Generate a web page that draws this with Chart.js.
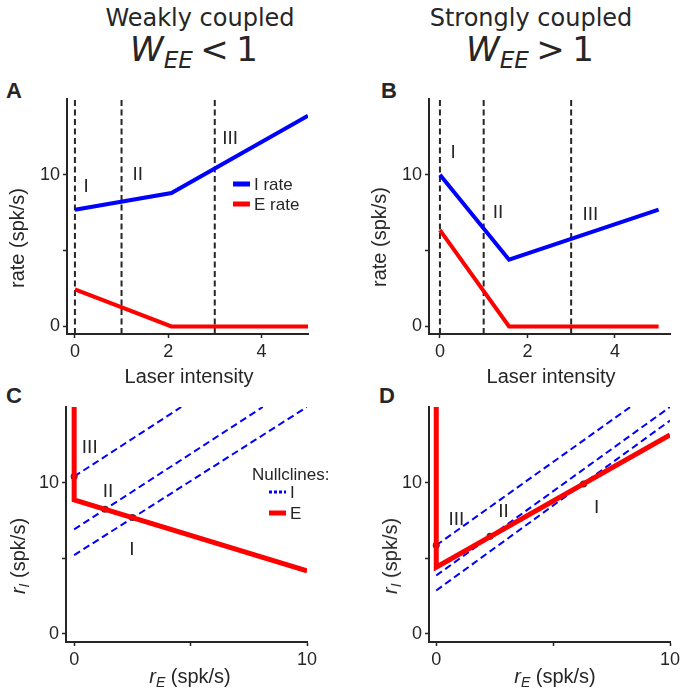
<!DOCTYPE html>
<html>
<head>
<meta charset="utf-8">
<script src="https://cdn.jsdelivr.net/npm/chart.js@4.4.1/dist/chart.umd.min.js"></script>
<style>
  body { margin: 0; background: #fff; }
  #fig { position: relative; width: 691px; height: 691px; overflow: hidden; color: #262626;
         font-family: 'Liberation Sans', Arial, sans-serif; }
  #fig canvas { position: absolute; }
  .t { position: absolute; white-space: nowrap; line-height: 1; transform: translate(-50%, -50%); }
  .head { font-family: 'DejaVu Sans', sans-serif; font-size: 24px; }
  .math { font-family: 'DejaVu Sans', sans-serif; font-size: 34px; }
  .math i, .lab i { font-style: italic; }
  .math sub { font-size: 0.68em; vertical-align: -0.3em; line-height: 0; }
  .math .sp { display: inline-block; width: 0.22em; }
  .lab { font-size: 20px; }
  .lab sub { font-size: 0.7em; vertical-align: -0.3em; line-height: 0; }
  .rot { transform: translate(-50%, -50%) rotate(-90deg); }
  .letter { position: absolute; font-weight: bold; font-size: 22px; line-height: 1; }
</style>
</head>
<body>
<div id="fig">
  <div class="t head" style="left:200px;top:18px">Weakly coupled</div>
  <div class="t math" style="left:194px;top:49px"><i>W</i><sub><i>EE</i></sub><span class="sp"></span>&lt;<span class="sp"></span>1</div>
  <div class="t head" style="left:531px;top:18px">Strongly coupled</div>
  <div class="t math" style="left:530px;top:49px"><i>W</i><sub><i>EE</i></sub><span class="sp"></span>&gt;<span class="sp"></span>1</div>

  <div class="letter" style="left:6px;top:80px">A</div>
  <div class="letter" style="left:381px;top:80px">B</div>
  <div class="letter" style="left:6px;top:385px">C</div>
  <div class="letter" style="left:379px;top:385px">D</div>

  <canvas id="chartA" width="330" height="280" style="left:0;top:90px"></canvas>
  <canvas id="chartB" width="346" height="280" style="left:345px;top:90px"></canvas>
  <canvas id="chartC" width="330" height="280" style="left:0;top:398px"></canvas>
  <canvas id="chartD" width="346" height="280" style="left:345px;top:398px"></canvas>

  <div class="t lab rot" style="left:17px;top:238px">rate (spk/s)</div>
  <div class="t lab rot" style="left:379px;top:237px">rate (spk/s)</div>
  <div class="t lab" style="left:189px;top:376px">Laser intensity</div>
  <div class="t lab" style="left:551px;top:376px">Laser intensity</div>
  <div class="t lab rot" style="left:18px;top:556px"><i>r</i><sub><i>I</i></sub> (spk/s)</div>
  <div class="t lab rot" style="left:390px;top:556px"><i>r</i><sub><i>I</i></sub> (spk/s)</div>
  <div class="t lab" style="left:190px;top:676px"><i>r</i><sub><i>E</i></sub> (spk/s)</div>
  <div class="t lab" style="left:555px;top:676px"><i>r</i><sub><i>E</i></sub> (spk/s)</div>
</div>

<script>
// ---- data ----
const regimeNames  = ['I', 'II', 'III'];
const regimeBounds = [0, 1, 3];

// A: weakly coupled, rates vs laser
const laserA = [0, 2.07, 5];
const iRateA = [7.7, 8.8, 13.9];
const eRateA = [2.45, 0, 0];
const labelXA = [0.24, 1.35, 3.33];
const labelYA = [9.2, 10.0, 12.4];

// B: strongly coupled, rates vs laser
const laserB = [0, 1.58, 5];
const iRateB = [10, 4.4, 7.7];
const eRateB = [6.35, 0, 0];
const labelXB = [0.3, 1.33, 3.44];
const labelYB = [11.45, 7.5, 7.37];

// C: weakly coupled nullclines (I nullclines listed I, II, III)
const eNullXC = [0, 0, 10];
const eNullYC = [15, 8.85, 4.15];
const iNullXC = [[0, 10], [0, 8.1], [0, 4.6]];
const iNullYC = [[5.2, 15], [6.9, 15], [10.4, 15]];
const fixedXC = [0, 1.33, 2.5];
const fixedYC = [10.4, 8.23, 7.68];
const labelXC = [2.48, 1.45, 0.67];
const labelYC = [5.53, 9.38, 12.3];

// D: strongly coupled nullclines
const eNullXD = [0, 0, 10];
const eNullYD = [15, 4.4, 13.15];
const iNullXD = [[0, 10], [0, 10], [0, 8.3]];
const iNullYD = [[2.86, 14.1], [3.85, 15], [5.85, 15]];
const fixedXD = [0, 2.3, 6.3];
const fixedYD = [5.85, 6.45, 9.9];
const labelXD = [6.86, 2.88, 0.86];
const labelYD = [8.32, 8.07, 7.52];

const yRange = [-0.5, 15];
const yTicks = [0, 5, 10];
const yShown = [0, 10];

// ---- helpers ----
const INK = '#262626';
const BLUE = '#0000ff';
const RED = '#ff0000';

const pts = (xs, ys) => xs.map((x, i) => ({ x, y: ys[i] }));

function line(data, color, width, dash) {
  return {
    data, borderColor: color, backgroundColor: color, borderWidth: width,
    borderDash: dash || [], showLine: true, pointRadius: 0, fill: false, tension: 0
  };
}

function axes(xMin, xMax, xTicks, xShown, yMin, yMax, yWidth) {
  const tickFont = { family: 'Liberation Sans', size: 18 };
  return {
    x: {
      type: 'linear', min: xMin, max: xMax,
      afterBuildTicks: s => { s.ticks = xTicks.map(v => ({ value: v })); },
      afterFit: s => { s.height = 36; s.paddingLeft = 0; s.paddingRight = 0; },
      ticks: { autoSkip: false, maxRotation: 0, padding: 3, color: INK, font: tickFont,
               callback: v => xShown.includes(v) ? String(v) : '' },
      grid: { drawOnChartArea: false, tickLength: 4, tickColor: INK, tickWidth: 1.5 },
      border: { color: INK, width: 2 }
    },
    y: {
      type: 'linear', min: yMin, max: yMax,
      afterBuildTicks: s => { s.ticks = yTicks.map(v => ({ value: v })); },
      afterFit: s => { s.width = yWidth; s.paddingTop = 0; s.paddingBottom = 0; },
      ticks: { autoSkip: false, padding: 3, color: INK, font: tickFont,
               callback: v => yShown.includes(v) ? String(v) : '' },
      grid: { drawOnChartArea: false, tickLength: 4, tickColor: INK, tickWidth: 1.5 },
      border: { color: INK, width: 2 }
    }
  };
}

function annotate(xs, ys, legend) {
  return {
    id: 'annotate',
    afterDatasetsDraw(chart) {
      const { ctx, scales: { x, y } } = chart;
      ctx.save();
      ctx.fillStyle = INK;
      ctx.font = '19px "Liberation Sans"';
      ctx.textAlign = 'center';
      ctx.textBaseline = 'middle';
      regimeNames.forEach((t, i) => ctx.fillText(t, x.getPixelForValue(xs[i]), y.getPixelForValue(ys[i])));
      if (legend) legend(ctx);
      ctx.restore();
    }
  };
}

function legendEntry(ctx, x0, y0, color, width, dash, text) {
  ctx.beginPath();
  ctx.setLineDash(dash);
  ctx.strokeStyle = color;
  ctx.lineWidth = width;
  ctx.moveTo(x0, y0);
  ctx.lineTo(x0 + 17, y0);
  ctx.stroke();
  ctx.setLineDash([]);
  ctx.textAlign = 'left';
  ctx.fillText(text, x0 + 21, y0 + 1);
}

function rateLegend(ctx) {
  ctx.font = '17px "Liberation Sans"';
  legendEntry(ctx, 233, 94, BLUE, 5, [], 'I rate');
  legendEntry(ctx, 233, 114, RED, 5, [], 'E rate');
}

function nullLegend(ctx) {
  ctx.font = '17px "Liberation Sans"';
  ctx.textAlign = 'left';
  ctx.fillText('Nullclines:', 252, 77);
  legendEntry(ctx, 269, 94, BLUE, 3, [3, 2], 'I');
  legendEntry(ctx, 269, 115, RED, 5, [], 'E');
}

function bounds() {
  return regimeBounds.map(b => line(pts([b, b], yRange), INK, 2, [6, 3.5]));
}

function makeChart(id, datasets, scales, pad, plugin) {
  new Chart(document.getElementById(id), {
    type: 'scatter',
    data: { datasets },
    options: {
      responsive: false, maintainAspectRatio: false, animation: false,
      layout: { padding: pad },
      plugins: { legend: { display: false }, tooltip: { enabled: false } },
      scales
    },
    plugins: [plugin]
  });
}

// ---- panels ----
makeChart('chartA',
  [line(pts(laserA, iRateA), BLUE, 4), line(pts(laserA, eRateA), RED, 4), ...bounds()],
  axes(-0.17, 5, [0, 2, 4], [0, 2, 4], yRange[0], yRange[1], 67),
  { top: 9, right: 22, left: 0, bottom: 0 },
  annotate(labelXA, labelYA, rateLegend));

makeChart('chartB',
  [line(pts(laserB, iRateB), BLUE, 4), line(pts(laserB, eRateB), RED, 4), ...bounds()],
  axes(-0.25, 5.26, [0, 2, 4], [0, 2, 4], yRange[0], yRange[1], 84),
  { top: 9, right: 21, left: 0, bottom: 0 },
  annotate(labelXB, labelYB, null));

function nullclineSets(eX, eY, iX, iY, fX, fY) {
  const fixed = { data: pts(fX, fY), showLine: false, pointRadius: 3.5,
                  pointBackgroundColor: '#333', pointBorderWidth: 0 };
  return [line(pts(eX, eY), RED, 5),
          ...iX.map((xs, i) => line(pts(xs, iY[i]), BLUE, 2, [7, 4])),
          fixed];
}

makeChart('chartC',
  nullclineSets(eNullXC, eNullYC, iNullXC, iNullYC, fixedXC, fixedYC),
  axes(-0.35, 10, [0, 5, 10], [0, 10], -0.55, 15, 66),
  { top: 9, right: 23, left: 0, bottom: 0 },
  annotate(labelXC, labelYC, nullLegend));

makeChart('chartD',
  nullclineSets(eNullXD, eNullYD, iNullXD, iNullYD, fixedXD, fixedYD),
  axes(-0.31, 10, [0, 5, 10], [0, 10], -0.55, 15, 84),
  { top: 9, right: 21, left: 0, bottom: 0 },
  annotate(labelXD, labelYD, null));
</script>
</body>
</html>
